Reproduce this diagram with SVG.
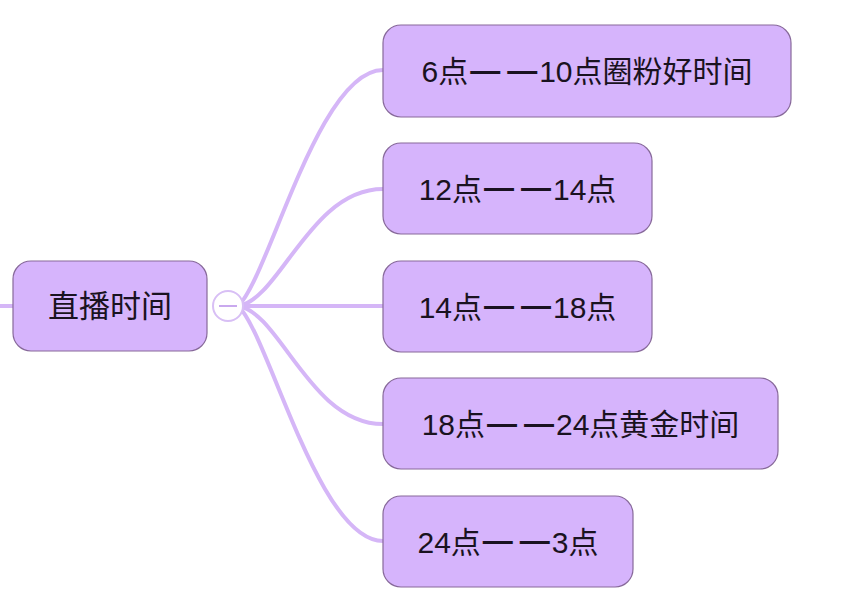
<svg xmlns="http://www.w3.org/2000/svg" width="854" height="610" viewBox="0 0 854 610">
<style>
.node rect{fill:#d6b4fc;stroke:#87699a;stroke-width:1.2}
.node text{font-family:"Liberation Sans","Noto Sans CJK SC",sans-serif;font-size:30px;fill:#1a1220;text-anchor:middle}
.node .d{font-weight:bold}
.conn path{fill:none;stroke:#d5b6f7;stroke-width:4;stroke-linecap:round}
</style>
<rect width="854" height="610" fill="#ffffff"/>
<g id="connectors" class="conn">
<path d="M0 306 L13 306"/>
<path d="M238 306 C268 280 318 70 383 70"/>
<path d="M238 306 C280 300 310 189 383 189"/>
<path d="M243 306 L383 306"/>
<path d="M238 306 C280 312 310 424 383 424"/>
<path d="M238 306 C268 332 318 541 383 541"/>
</g>
<g id="node-root" class="node">
<rect x="13" y="261" width="194" height="90" rx="18"/>
<text x="110" y="317" style="font-size:31px">直播时间</text>
</g>
<g id="collapse">
<circle cx="228" cy="306" r="15" fill="#ffffff" stroke="#d8bff5" stroke-width="2"/>
<line x1="219" y1="306" x2="237" y2="306" stroke="#c9a9ee" stroke-width="2"/>
</g>
<g id="node-1" class="node">
<rect x="383" y="25" width="408" height="92" rx="18"/>
<text x="587" y="82">6点<tspan class="d" dx="2" dy="-1.5">—</tspan><tspan class="d" dx="7">—</tspan><tspan dx="2" dy="1.5">10点圈粉好时间</tspan></text>
</g>
<g id="node-2" class="node">
<rect x="383" y="143" width="269" height="91" rx="18"/>
<text x="517.5" y="199.5">12点<tspan class="d" dx="2" dy="-1.5">—</tspan><tspan class="d" dx="7">—</tspan><tspan dx="2" dy="1.5">14点</tspan></text>
</g>
<g id="node-3" class="node">
<rect x="383" y="261" width="269" height="91" rx="18"/>
<text x="517.5" y="317.5">14点<tspan class="d" dx="2" dy="-1.5">—</tspan><tspan class="d" dx="7">—</tspan><tspan dx="2" dy="1.5">18点</tspan></text>
</g>
<g id="node-4" class="node">
<rect x="383" y="378" width="395" height="91" rx="18"/>
<text x="580.5" y="435">18点<tspan class="d" dx="2" dy="-1.5">—</tspan><tspan class="d" dx="7">—</tspan><tspan dx="2" dy="1.5">24点黄金时间</tspan></text>
</g>
<g id="node-5" class="node">
<rect x="383" y="496" width="250" height="91" rx="18"/>
<text x="508" y="552.5">24点<tspan class="d" dx="2" dy="-1.5">—</tspan><tspan class="d" dx="7">—</tspan><tspan dx="2" dy="1.5">3点</tspan></text>
</g>
</svg>
